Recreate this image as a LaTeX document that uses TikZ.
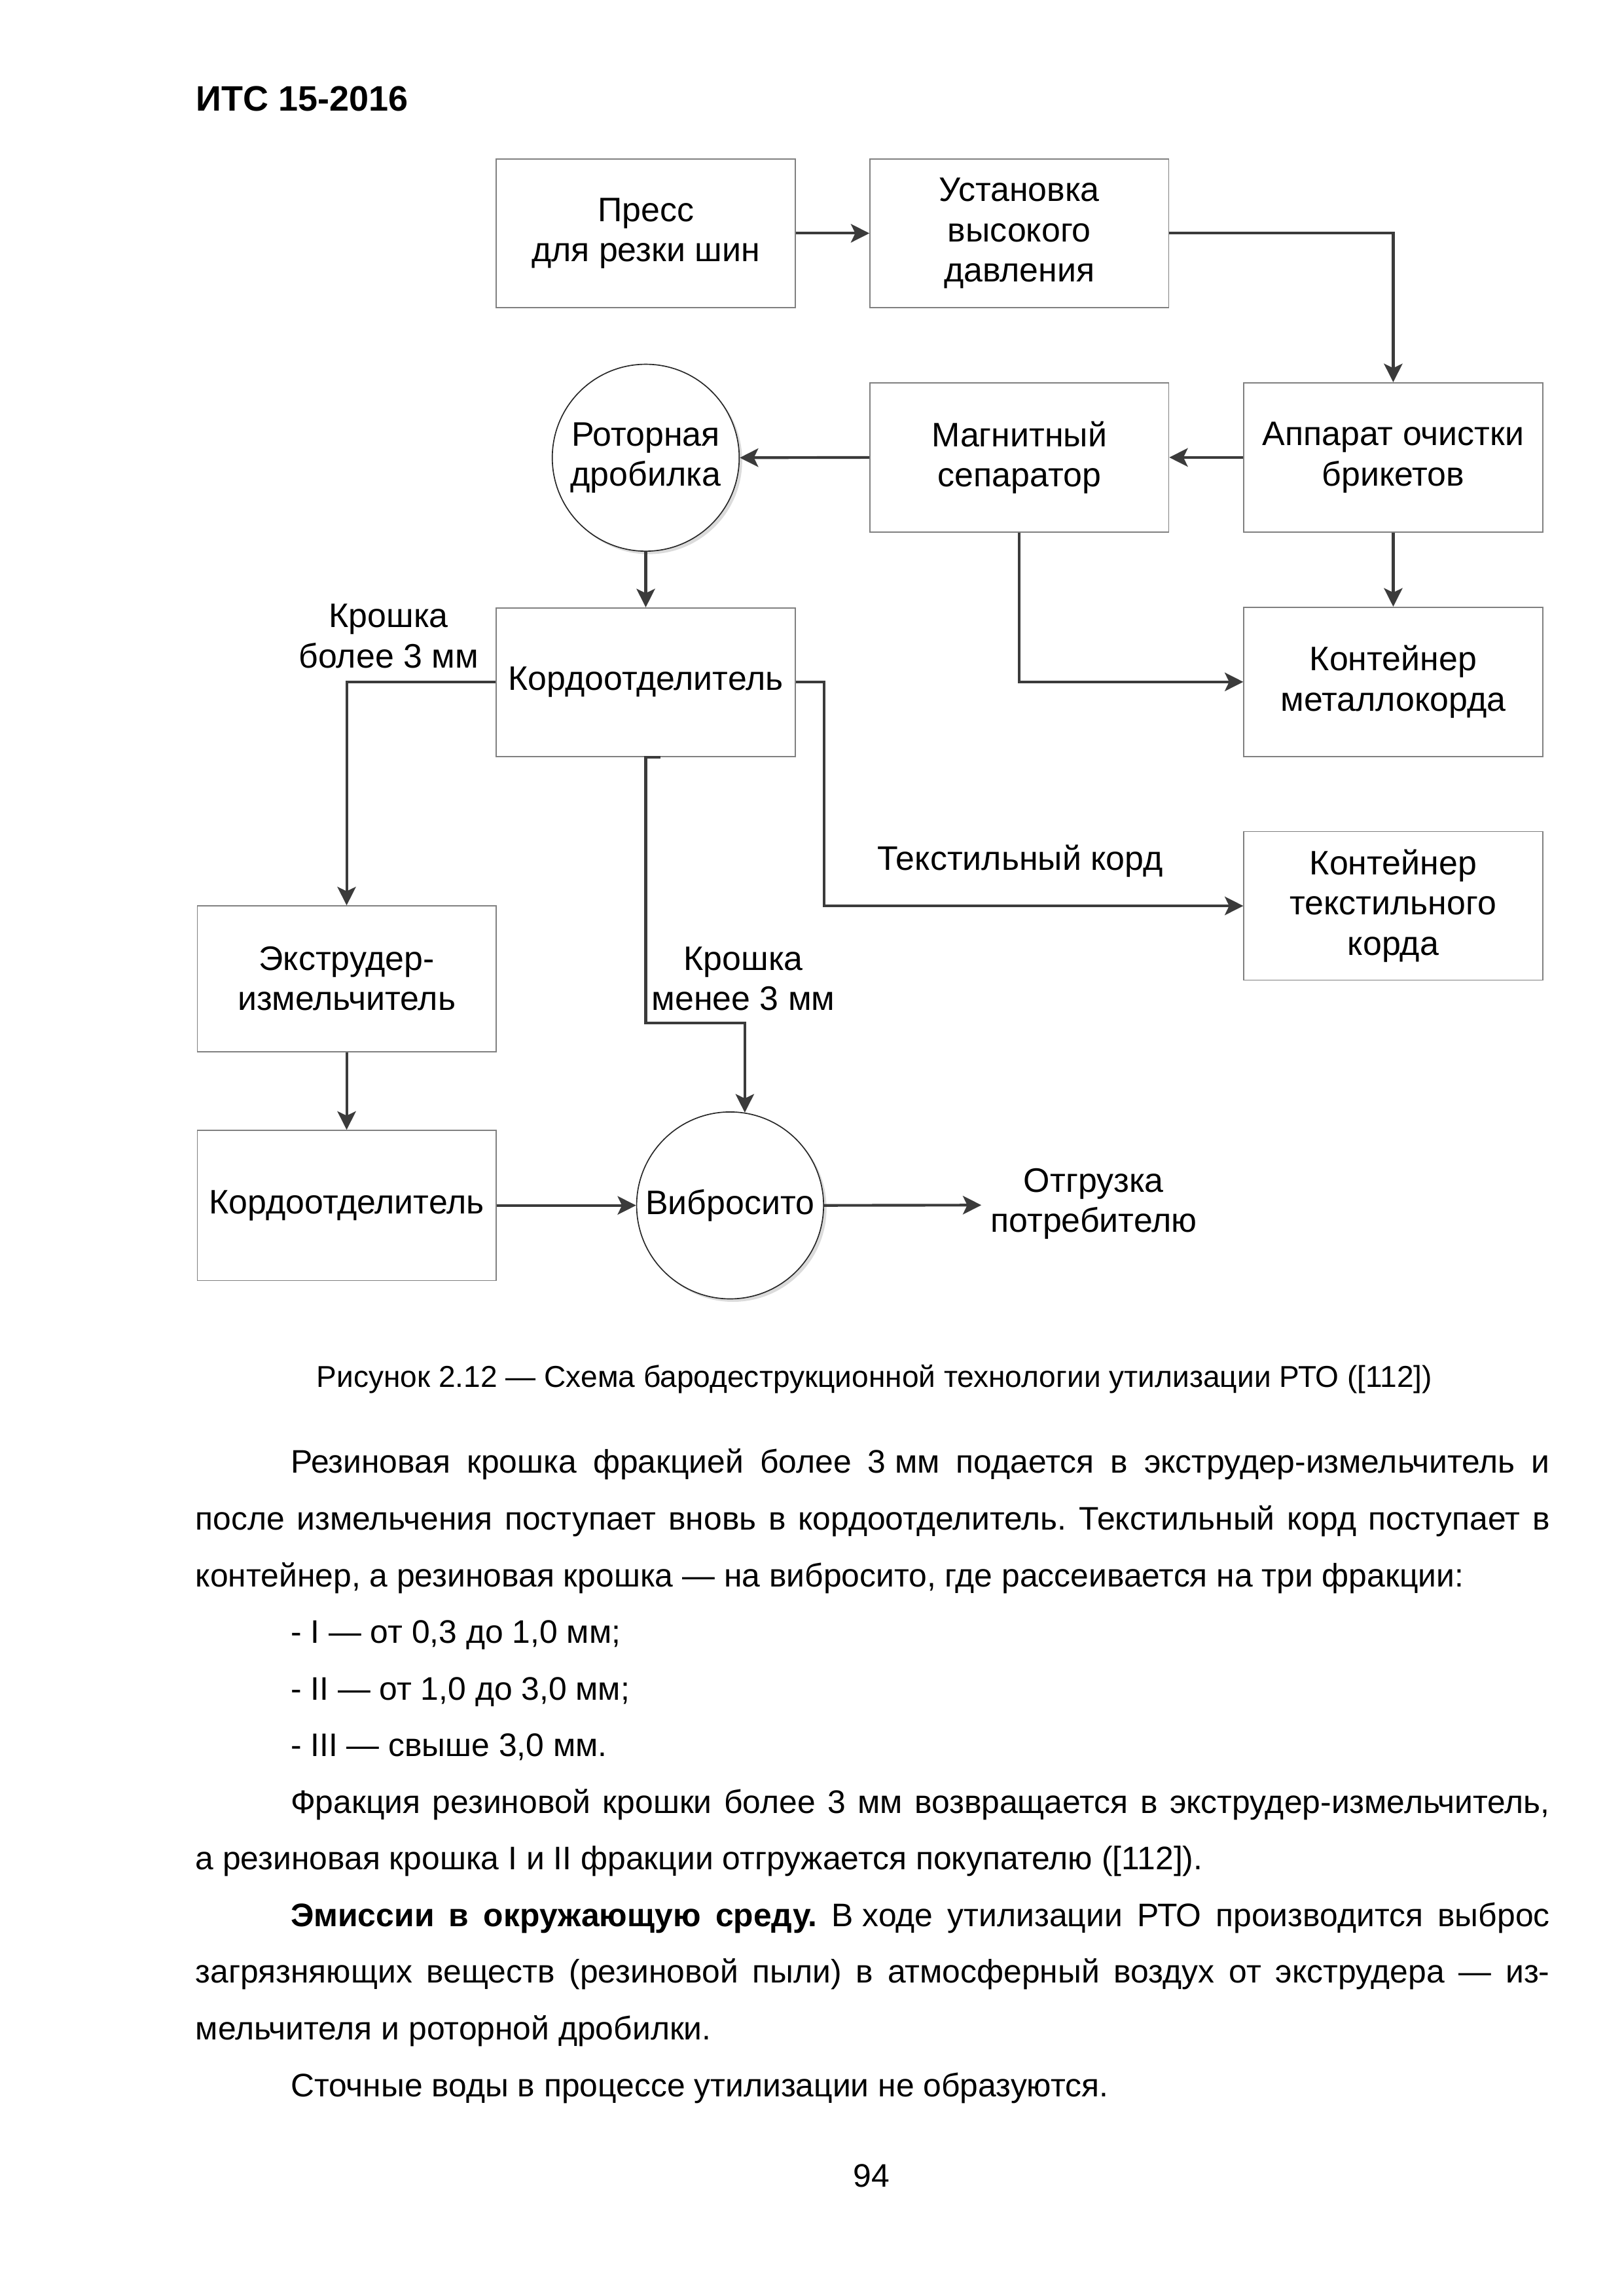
\documentclass[tikz,border=0pt]{standalone}
\usepackage{fontspec}
\setmainfont{Liberation Sans}
\usetikzlibrary{arrows.meta,shadows,calc}
\newcommand\dpx{0.19039mm}
\newcommand\diagfont{\fontsize{12.5}{14.8}\selectfont}
\newcommand\bodyfont{\fontsize{12}{20.85}\selectfont}
\frenchspacing
\tikzset{
  box/.style={draw=black!50, line width=0.4pt, fill=white, align=center, inner sep=0pt, font=\diagfont,
    minimum width=203*\dpx},
  circ/.style={circle, draw=black!85, line width=0.4pt, fill=white, minimum size=127*\dpx, inner sep=0pt, align=center, font=\diagfont,
    drop shadow={shadow xshift=2*\dpx, shadow yshift=-2*\dpx, fill=black!14, opacity=1}},
  conn/.style={draw=black!77, line width=1pt},
  arr/.style={conn, -{Stealth[length=6.8pt,width=6.8pt,inset=1.6pt]}},
  lbl/.style={align=center, font=\diagfont, inner sep=0pt},
}
\begin{document}
\begin{tikzpicture}[x=0.19039mm, y=-0.19039mm]
\useasboundingbox[fill=white] (0,0) rectangle (1103,1560);

% header
\node[anchor=base west, inner sep=0pt, font=\bfseries\fontsize{13}{15}\selectfont] (hdr) at (132.9,75.2) {ИТС 15-2016};

% boxes
\node[box, minimum height=101*\dpx] (press) at (438.7,158.5) {Пресс\\для резки шин};
\node[box, minimum height=101*\dpx] (ustan) at (692.5,158.5) {Установка\\высокого\\давления};
\node[box, minimum height=101.5*\dpx] (magn) at (692.5,310.8) {Магнитный\\сепаратор};
\node[box, minimum height=101.5*\dpx] (appar) at (946.5,310.8) {Аппарат очистки\\брикетов};
\node[circ] (rotor) at (438.7,311) {Роторная\\дробилка};
\node[box, minimum height=101*\dpx] (kord1) at (438.7,463.5) {Кордоотделитель};
\node[box, minimum height=101.5*\dpx] (metal) at (946.5,463.3) {Контейнер\\металлокорда};
\node[box, minimum height=101*\dpx] (textile) at (946.5,615.5) {Контейнер\\текстильного\\корда};
\node[box, minimum height=99*\dpx] (extr) at (235.5,665) {Экструдер-\\измельчитель};
\node[box, minimum height=102*\dpx] (kord2) at (235.5,819) {Кордоотделитель};
\node[circ] (vib) at (496,819) {Вибросито};
\node[lbl] (ship) at (743,818) {Отгрузка\\потребителю};
\coordinate (shipin) at (666.7,818.8);

% labels
\node[lbl] (lblA) at (264,432.3) {Крошка\\более 3 мм};
\node[lbl] (lblB) at (505,665) {Крошка\\менее 3 мм};
\node[lbl] (lblC) at (693,585) {Текстильный корд};

% connectors
\draw[arr] (press.east) -- (ustan.west);
\draw[arr] (ustan.east) -| (appar.north);
\draw[arr] (appar.west) -- (magn.east);
\draw[arr] (magn.west) -- (rotor.east);
\draw[arr] (rotor.south) -- (kord1.north);
\draw[arr] (appar.south) -- (metal.north);
\draw[arr] (magn.south) |- (metal.west);
\draw[arr] (kord1.west) -| (extr.north);
\draw[arr] (kord1.east) -- ++(19.3,0) |- (textile.west);
\draw[arr] ($(kord1.south)+(10,0)$) -- (kord1.south) -- ++(0,180.8) -| (vib.81);
\draw[arr] (extr.south) -- (kord2.north);
\draw[arr] (kord2.east) -- (vib.west);
\draw[arr] (vib.east) -- (shipin);

% caption
\node[anchor=base, inner sep=0pt, font=\fontsize{11.1}{13}\selectfont] (cap) at (594,942.5) {Рисунок 2.12 — Схема бародеструкционной технологии утилизации РТО ([112])};

% body text
\node[anchor=base west, inner sep=0pt, text width=920*\dpx, align=justify, font=\bodyfont] (body) at (132.5,1001) {%
\hyphenpenalty=10000\exhyphenpenalty=10000%
\hspace*{12.3mm}Резиновая крошка фракцией более \mbox{3 мм} подается в экструдер-измельчитель и\linebreak
после измельчения поступает вновь в кордоотделитель. Текстильный корд поступает в\linebreak
контейнер, а резиновая крошка — на вибросито, где рассеивается на три фракции:\par
\hspace*{12.3mm}- I — от 0,3 до 1,0 мм;\par
\hspace*{12.3mm}- II — от 1,0 до 3,0 мм;\par
\hspace*{12.3mm}- III — свыше 3,0 мм.\par
\hspace*{12.3mm}Фракция резиновой крошки более 3 мм возвращается в экструдер-измельчитель,\linebreak
а резиновая крошка I и II фракции отгружается покупателю ([112]).\par
\hspace*{12.3mm}\textbf{Эмиссии в окружающую среду.} \mbox{В ходе} утилизации РТО производится выброс\linebreak
загрязняющих веществ (резиновой пыли) в атмосферный воздух от экструдера — из-\linebreak
мельчителя и роторной дробилки.\par
\hspace*{12.3mm}Сточные воды в процессе утилизации не образуются.};

% page number
\node[anchor=base, inner sep=0pt, font=\bodyfont] (pnum) at (592,1486) {94};
\end{tikzpicture}
\end{document}
